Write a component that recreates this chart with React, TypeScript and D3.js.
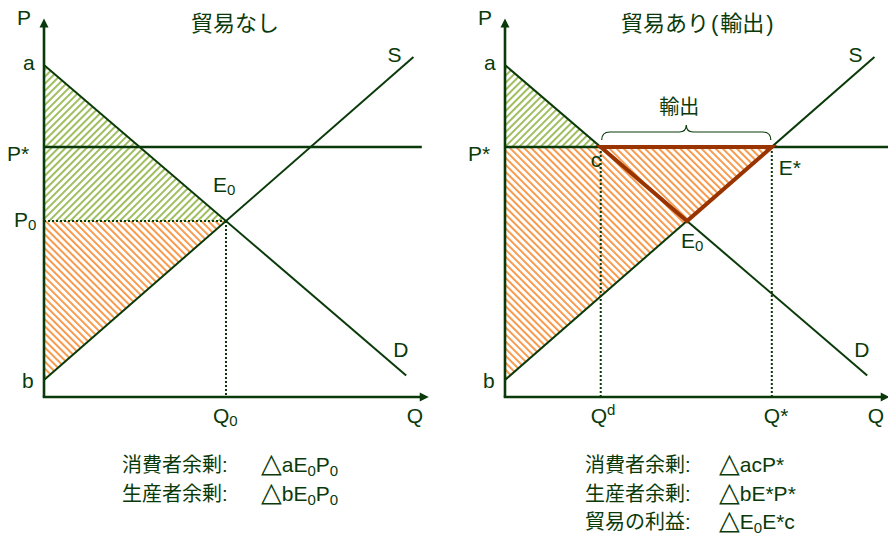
import React from "react";
import * as d3 from "d3";

// ---- data (in chart units: Q quantity, P price) ----
const qDomain = [0, 10];
const pDomain = [0, 100];
const demandLine = [
  { q: 0, p: 100 },
  { q: 9.95, p: 6.5 },
];
const supplyLine = [
  { q: 0, p: 5.1 },
  { q: 10.15, p: 102.4 },
];
const pIntercepts = { a: 100, b: 5.1 };
const priceWorld = 75.3;
const priceEq = 53;
const qEq = 5;
const qDomestic = 2.63;
const qExport = 7.33;
const axisPMax = 114;
const axisQMax = 10.57;
const worldLineEnd = [10.38, 10.7];

const titles = [
  [["貿易なし", 0]],
  [["貿易あり", 0], ["(", 2], ["輸出", 2], [")", 2]],
];
const noteLeft = [
  { head: "消費者余剰:", tail: [["△"], ["a"], ["E"], ["0", "sub"], ["P"], ["0", "sub"]] },
  { head: "生産者余剰:", tail: [["△"], ["b"], ["E"], ["0", "sub"], ["P"], ["0", "sub"]] },
];
const noteRight = [
  { head: "消費者余剰:", tail: [["△"], ["acP*"]] },
  { head: "生産者余剰:", tail: [["△"], ["bE*P*"]] },
  { head: "貿易の利益:", tail: [["△"], ["E"], ["0", "sub"], ["E*c"]] },
];

const INK = "#0a3a0a";
const BROWN = "#993300";
const GREEN = "#9bbb59";
const ORANGE = "#f79646";
const FONT = '"Liberation Sans", Arial, "Noto Sans CJK JP", sans-serif';
const LBL = 21;
const SUB = 15;

type Pt = { q: number; p: number };

function Panel({ ox, trade }: { ox: number; trade: boolean }) {
  const x = d3.scaleLinear().domain(qDomain).range([ox, ox + 364]);
  const y = d3.scaleLinear().domain(pDomain).range([397, 65]);
  const line = d3
    .line<Pt>()
    .x((d) => x(d.q))
    .y((d) => y(d.p));
  const poly = (pts: Pt[]) => line(pts) + "Z";

  const x0 = x(0);
  const y0 = y(0);
  const yTop = y(axisPMax);
  const xEnd = x(axisQMax);

  const greenPoly: Pt[] = trade
    ? [{ q: 0, p: pIntercepts.a }, { q: qDomestic, p: priceWorld }, { q: 0, p: priceWorld }]
    : [{ q: 0, p: pIntercepts.a }, { q: qEq, p: priceEq }, { q: 0, p: priceEq }];
  const orangePoly: Pt[] = trade
    ? [{ q: 0, p: pIntercepts.b }, { q: qExport, p: priceWorld }, { q: 0, p: priceWorld }]
    : [{ q: 0, p: pIntercepts.b }, { q: qEq, p: priceEq }, { q: 0, p: priceEq }];

  const t = { fill: INK, fontSize: LBL, fontFamily: FONT } as const;
  const xc = x(qDomestic);
  const xs = x(qExport);
  const yw = y(priceWorld);
  const braceY = yw - 15;
  const braceMid = (xc + xs) / 2;

  return (
    <g>
      <path d={poly(greenPoly)} fill="url(#hatchG)" />
      <path d={poly(orangePoly)} fill="url(#hatchO)" />

      {!trade && (
        <g stroke={INK} strokeWidth={2} strokeDasharray="2 2" fill="none">
          <line x1={x0} x2={x(qEq)} y1={y(priceEq)} y2={y(priceEq)} />
          <line x1={x(qEq)} x2={x(qEq)} y1={y(priceEq)} y2={y0} />
        </g>
      )}
      {trade && (
        <g stroke={INK} strokeWidth={2} strokeDasharray="2 2" fill="none">
          <line x1={xc} x2={xc} y1={yw} y2={y0} />
          <line x1={xs} x2={xs} y1={yw} y2={y0} />
        </g>
      )}

      <path d={line(demandLine)!} stroke={INK} strokeWidth={2} fill="none" />
      <path d={line(supplyLine)!} stroke={INK} strokeWidth={2} fill="none" />
      <line
        x1={x0}
        x2={x(trade ? worldLineEnd[1] : worldLineEnd[0])}
        y1={yw}
        y2={yw}
        stroke={INK}
        strokeWidth={2.7}
      />

      {trade && (
        <path
          d={poly([
            { q: qDomestic, p: priceWorld },
            { q: qEq, p: priceEq },
            { q: qExport, p: priceWorld },
          ])}
          stroke={BROWN}
          strokeWidth={4}
          strokeLinejoin="miter"
          fill="none"
        />
      )}

      {/* axes */}
      <line x1={x0} x2={x0} y1={y0} y2={yTop + 6} stroke={INK} strokeWidth={2.6} />
      <line x1={x0 - 1.3} x2={xEnd - 6} y1={y0} y2={y0} stroke={INK} strokeWidth={2.6} />
      <path d={`M${x0},${yTop} L${x0 + 4.5},${yTop + 9} L${x0 - 4.5},${yTop + 9}Z`} fill={INK} />
      <path d={`M${xEnd},${y0} L${xEnd - 9},${y0 - 4.5} L${xEnd - 9},${y0 + 4.5}Z`} fill={INK} />

      {/* title */}
      <text x={x0 + (trade ? 116 : 147)} y={31} {...t} fontSize={22}>
        {titles[trade ? 1 : 0].map((s, i) => (
          <tspan key={i} dx={s[1] as number}>
            {s[0]}
          </tspan>
        ))}
      </text>

      {/* axis labels */}
      <text x={x0 - 27} y={25} {...t}>P</text>
      <text x={x0 - 21} y={y(pIntercepts.a) + 5} {...t}>a</text>
      <text x={x0 - 37} y={yw + 14} {...t}>P*</text>
      <text x={x0 - 22} y={y(pIntercepts.b) + 8} {...t}>b</text>
      {!trade && (
        <text x={x0 - 30} y={y(priceEq) + 6} {...t}>
          P<tspan fontSize={SUB} dy={3}>0</tspan>
        </text>
      )}
      <text x={x(supplyLine[1].q) - 26} y={62} {...t}>S</text>
      <text x={x(demandLine[1].q) - 13} y={357} {...t}>D</text>
      <text x={xEnd - 22} y={423} {...t}>Q</text>

      {!trade && (
        <>
          <text x={x(qEq) - 13} y={y(priceEq) - 29} {...t}>
            E<tspan fontSize={SUB} dy={3}>0</tspan>
          </text>
          <text x={x(qEq) - 13} y={423} {...t}>
            Q<tspan fontSize={SUB} dy={3}>0</tspan>
          </text>
        </>
      )}
      {trade && (
        <>
          <text x={xc - 10} y={yw + 20} {...t}>c</text>
          <text x={xs + 7} y={yw + 28} {...t}>E*</text>
          <text x={x(qEq) - 6} y={y(priceEq) + 27} {...t}>
            E<tspan fontSize={SUB} dy={3}>0</tspan>
          </text>
          <text x={xc - 10} y={423} {...t}>
            Q<tspan fontSize={SUB} dy={-8}>d</tspan>
          </text>
          <text x={xs - 8} y={423} {...t}>Q*</text>
          <text x={braceMid - 7} y={114} {...t} fontSize={20} textAnchor="middle">輸出</text>
          <path
            d={`M${xc + 1},${braceY + 8} Q${xc + 1},${braceY} ${xc + 9},${braceY} L${braceMid - 7},${braceY} Q${braceMid},${braceY} ${braceMid},${braceY - 7} Q${braceMid},${braceY} ${braceMid + 7},${braceY} L${xs - 9},${braceY} Q${xs - 1},${braceY} ${xs - 1},${braceY + 8}`}
            stroke={INK}
            strokeWidth={1.2}
            fill="none"
          />
        </>
      )}
    </g>
  );
}

function Notes({ sx, notes, tri }: { sx: number; notes: typeof noteLeft; tri: number }) {
  return (
    <g>
      {notes.map((n, i) => (
        <text key={i} x={sx} y={472 + i * 28.7} fill={INK} fontSize={20} fontFamily={FONT}>
          <tspan>{n.head}</tspan>
          {n.tail.map((s, j) => {
            const props: any = { fontSize: 21 };
            if (j === 0) {
              props.x = sx + tri;
              props.fontSize = 27;
              props.fontFamily = '"DejaVu Sans", sans-serif';
            }
            const prev = j > 0 ? n.tail[j - 1][1] : undefined;
            if (s[1] === "sub") {
              props.fontSize = SUB;
              props.dy = 4;
            } else if (prev === "sub") {
              props.dy = -4;
            }
            return (
              <tspan key={j} {...props}>
                {s[0]}
              </tspan>
            );
          })}
        </text>
      ))}
    </g>
  );
}

export default function App() {
  return (
    <svg
      width={888}
      height={538}
      style={{ position: "absolute", left: 0, top: 0, background: "#fff" }}
    >
      <defs>
        <pattern id="hatchG" patternUnits="userSpaceOnUse" width={5} height={5} patternTransform="rotate(45)">
          <rect width={1.9} height={5} fill={GREEN} />
        </pattern>
        <pattern id="hatchO" patternUnits="userSpaceOnUse" width={5} height={5} patternTransform="rotate(-45)">
          <rect width={1.9} height={5} fill={ORANGE} />
        </pattern>
      </defs>
      <rect width={888} height={538} fill="#fff" />
      <Panel ox={44} trade={false} />
      <Panel ox={505} trade={true} />
      <Notes sx={122} notes={noteLeft} tri={139} />
      <Notes sx={585} notes={noteRight} tri={134} />
    </svg>
  );
}
